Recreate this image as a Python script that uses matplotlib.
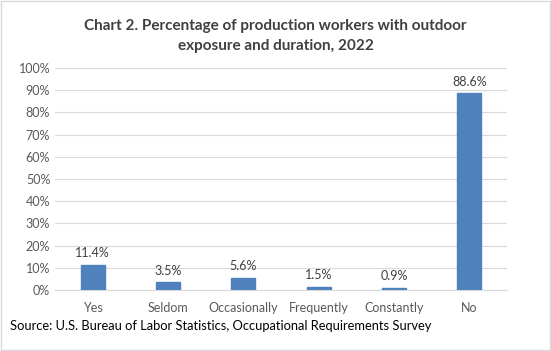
import matplotlib.pyplot as plt
from matplotlib.patches import Rectangle

categories = ["Yes", "Seldom", "Occasionally", "Frequently", "Constantly", "No"]
values = [11.4, 3.5, 5.6, 1.5, 0.9, 88.6]
yticks = [0, 10, 20, 30, 40, 50, 60, 70, 80, 90, 100]

plt.rcParams["font.family"] = ["Lato", "DejaVu Sans"]

fig = plt.figure(figsize=(5.51, 3.51), dpi=100)
ax = fig.add_axes([0.1, 0.174, 0.82, 0.632])

x = range(len(categories))
ax.bar(x, values, width=0.32, color="#4f81bd", edgecolor="#4f81bd", zorder=3)
for i, v in zip(x, values):
    ax.text(i, v + 2.5, f"{v:.1f}%", ha="center", va="bottom", fontsize=9, color="#404040")

ax.set_ylim(0, 100)
ax.set_xlim(-0.5, len(categories) - 0.5)
ax.set_yticks(yticks)
ax.set_yticklabels([f"{t}%" for t in yticks])
ax.set_xticks(list(x))
ax.set_xticklabels(categories)
ax.tick_params(axis="both", length=0, labelsize=9, labelcolor="#595959")
ax.tick_params(axis="x", pad=9)
ax.yaxis.grid(True, color="#d9d9d9", linewidth=0.8, zorder=0)
for s in ["top", "right", "left"]:
    ax.spines[s].set_visible(False)
ax.spines["bottom"].set_color("#d9d9d9")

fig.text(0.5, 0.898, "Chart 2. Percentage of production workers with outdoor\nexposure and duration, 2022",
         ha="center", va="center", fontsize=11, fontweight="bold", color="#404040", linespacing=1.55)
fig.text(0.018, 0.071, "Source: U.S. Bureau of Labor Statistics, Occupational Requirements Survey",
         ha="left", va="center", fontsize=9.3, color="black")

fig.patches.append(Rectangle((0.002, 0.003), 0.996, 0.994, transform=fig.transFigure,
                             fill=False, edgecolor="#d9d9d9", linewidth=1))

fig.savefig("out.png", dpi=100)
